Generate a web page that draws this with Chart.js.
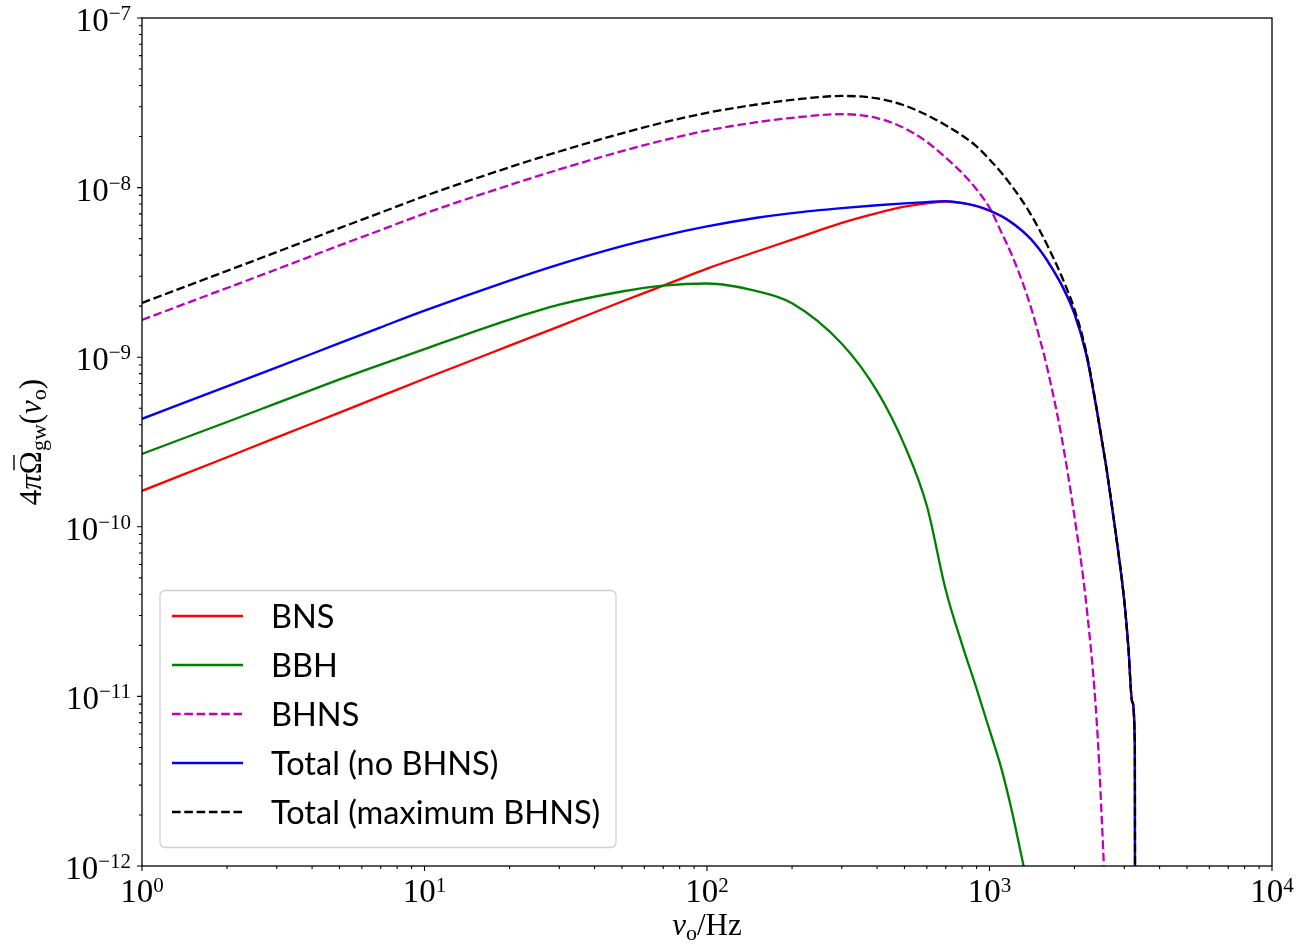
<!DOCTYPE html>
<html>
<head>
<meta charset="utf-8">
<script src="https://cdn.jsdelivr.net/npm/chart.js@4.4.1/dist/chart.umd.min.js"></script>
<style>
  html, body { margin: 0; padding: 0; background: #fff; }
  #wrap { width: 1312px; height: 945px; position: relative; }
</style>
</head>
<body>
<div id="wrap"><canvas id="chart"></canvas></div>
<script>
// frequencies in Hz
const FREQ = [1, 2, 3, 5, 7, 10, 20, 30, 50, 70, 100, 150, 200, 300, 400, 500, 600, 700, 800, 900,
  1000, 1100, 1200, 1300, 1400, 1500, 1600, 1800, 2000, 2200, 2400, 2500, 2600, 2800, 3000, 3100, 3200, 3270, 3280];

const BNS = [1.63e-10, 2.57e-10, 3.37e-10, 4.71e-10, 5.89e-10, 7.46e-10, 1.17e-9, 1.52e-9, 2.13e-9, 2.64e-9,
  3.33e-9, 4.20e-9, 4.93e-9, 6.2e-9, 7.08e-9, 7.72e-9, 8.08e-9, 8.28e-9, 8.10e-9, 7.78e-9,
  7.32e-9, 6.79e-9, 6.21e-9, 5.60e-9, 4.98e-9, 4.34e-9, 3.72e-9, 2.67e-9, 1.80e-9, 1.04e-9,
  4.82e-10, 3.21e-10, 2.16e-10, 9.1e-11, 3.66e-11, 1.97e-11, 9.3e-12, 5.2e-12, 1e-14];

const BBH = [2.69e-10, 4.15e-10, 5.36e-10, 7.40e-10, 9.05e-10, 1.117e-9, 1.667e-9, 2.04e-9, 2.44e-9, 2.64e-9,
  2.72e-9, 2.45e-9, 2.08e-9, 1.20e-9, 6.31e-10, 3.03e-10, 1.33e-10, 4.24e-11, 2.02e-11, 1.11e-11,
  6.34e-12, 3.79e-12, 2.11e-12, 1.13e-12, 6.3e-13, null, null, null, null, null,
  null, null, null, null, null, null, null, null, null];

const BHNS = [1.66e-9, 2.56e-9, 3.30e-9, 4.56e-9, 5.62e-9, 7.03e-9, 1.035e-8, 1.28e-8, 1.64e-8, 1.90e-8,
  2.17e-8, 2.43e-8, 2.58e-8, 2.71e-8, 2.57e-8, 2.24e-8, 1.86e-8, 1.50e-8, 1.22e-8, 9.75e-9,
  7.62e-9, 5.48e-9, 4.0e-9, 2.85e-9, 1.98e-9, 1.32e-9, 8.67e-10, 3.37e-10, 1.14e-10, 3.52e-11,
  6.85e-12, 1.82e-12, 4e-13, null, null, null, null, null, null];

const TOTAL_NO_BHNS = [4.33e-10, 6.73e-10, 8.71e-10, 1.21e-9, 1.50e-9, 1.88e-9, 2.83e-9, 3.53e-9, 4.52e-9, 5.20e-9,
  5.90e-9, 6.64e-9, 7.08e-9, 7.57e-9, 7.87e-9, 8.07e-9, 8.22e-9, 8.32e-9, 8.12e-9, 7.79e-9,
  7.33e-9, 6.79e-9, 6.21e-9, 5.60e-9, 4.98e-9, 4.34e-9, 3.72e-9, 2.67e-9, 1.80e-9, 1.04e-9,
  4.82e-10, 3.21e-10, 2.16e-10, 9.1e-11, 3.66e-11, 1.97e-11, 9.3e-12, 5.2e-12, 1e-14];

const TOTAL_MAX = [2.09e-9, 3.23e-9, 4.17e-9, 5.77e-9, 7.12e-9, 8.91e-9, 1.318e-8, 1.633e-8, 2.09e-8, 2.42e-8,
  2.76e-8, 3.09e-8, 3.29e-8, 3.47e-8, 3.36e-8, 3.05e-8, 2.68e-8, 2.33e-8, 2.03e-8, 1.75e-8,
  1.466e-8, 1.227e-8, 1.02e-8, 8.45e-9, 6.96e-9, 5.66e-9, 4.59e-9, 3.0e-9, 1.91e-9, 1.075e-9,
  4.89e-10, 3.23e-10, 2.16e-10, 9.1e-11, 3.66e-11, 1.97e-11, 9.3e-12, 5.2e-12, 1e-14];

const SERIES_LABELS = ["BNS", "BBH", "BHNS", "Total (no BHNS)", "Total (maximum BHNS)"];
const X_DECADES = [0, 1, 2, 3, 4];
const Y_DECADES = [-12, -11, -10, -9, -8, -7];

const SERIF = "'Liberation Serif', 'DejaVu Serif', serif";
const SANS = "Lato, 'DejaVu Sans', sans-serif";
const DASH = [8.6, 3.7];
const LW = 2.3;

function pts(ys) {
  return FREQ.map((f, i) => ({ x: f, y: ys[i] }));
}

// later series sit on top, as in the original plot
function line(label, ys, color, dashed, order) {
  return {
    label,
    data: pts(ys),
    borderColor: color,
    backgroundColor: color,
    borderWidth: LW,
    borderDash: dashed ? DASH : [],
    pointRadius: 0,
    fill: false,
    cubicInterpolationMode: "monotone",
    spanGaps: false,
    order,
  };
}

// draw a run of text pieces (base, super/subscripts) left to right
function drawParts(ctx, parts, x, y, align) {
  let w = 0;
  parts.forEach((p) => {
    ctx.font = p.font;
    p.w = ctx.measureText(p.text).width;
    w += p.w;
  });
  let cx = align === "right" ? x - w : align === "center" ? x - w / 2 : x;
  ctx.textAlign = "left";
  ctx.textBaseline = "alphabetic";
  parts.forEach((p) => {
    ctx.font = p.font;
    ctx.fillText(p.text, cx, y + (p.dy || 0));
    p.x = cx;
    cx += p.w;
  });
  return parts;
}

const axesPlugin = {
  id: "mplAxes",
  afterDraw(chart) {
    const ctx = chart.ctx;
    const a = chart.chartArea;
    const xs = chart.scales.x;
    const ys = chart.scales.y;
    ctx.save();
    ctx.fillStyle = "#000";
    ctx.strokeStyle = "#000";

    // ticks (outward, left and bottom)
    ctx.lineWidth = 1.1;
    ctx.beginPath();
    for (let i = 0; i < X_DECADES.length; i++) {
      const d = X_DECADES[i];
      const px = xs.getPixelForValue(Math.pow(10, d));
      ctx.moveTo(px, a.bottom); ctx.lineTo(px, a.bottom + 5);
      if (i < X_DECADES.length - 1) {
        for (let m = 2; m <= 9; m++) {
          const mx = xs.getPixelForValue(m * Math.pow(10, d));
          ctx.moveTo(mx, a.bottom); ctx.lineTo(mx, a.bottom + 3);
        }
      }
    }
    for (let i = 0; i < Y_DECADES.length; i++) {
      const d = Y_DECADES[i];
      const py = ys.getPixelForValue(Math.pow(10, d));
      ctx.moveTo(a.left, py); ctx.lineTo(a.left - 5, py);
      if (i < Y_DECADES.length - 1) {
        for (let m = 2; m <= 9; m++) {
          const my = ys.getPixelForValue(m * Math.pow(10, d));
          ctx.moveTo(a.left, my); ctx.lineTo(a.left - 3, my);
        }
      }
    }
    ctx.stroke();

    // frame
    ctx.lineWidth = 1.3;
    ctx.strokeRect(a.left, a.top, a.right - a.left, a.bottom - a.top);

    // tick labels
    const base = "33px " + SERIF;
    const sup = "21px " + SERIF;
    X_DECADES.forEach((d) => {
      const px = xs.getPixelForValue(Math.pow(10, d));
      drawParts(ctx, [
        { text: "10", font: base },
        { text: String(d).replace("-", "\u2212"), font: sup, dy: -10 },
      ], px, 902, "center");
    });
    Y_DECADES.forEach((d) => {
      const py = ys.getPixelForValue(Math.pow(10, d));
      drawParts(ctx, [
        { text: "10", font: base },
        { text: String(d).replace("-", "\u2212"), font: sup, dy: -11 },
      ], 131, py + 13, "right");
    });

    // x axis title
    const t = "31px " + SERIF;
    const ti = "italic 31px " + SERIF;
    const ts = "22px " + SERIF;
    drawParts(ctx, [
      { text: "\u03bd", font: ti },
      { text: "o", font: ts, dy: 5 },
      { text: "/Hz", font: t },
    ], (a.left + a.right) / 2, 935, "center");

    // y axis title, rotated
    ctx.save();
    ctx.translate(41, (a.top + a.bottom) / 2);
    ctx.rotate(-Math.PI / 2);
    const yp = drawParts(ctx, [
      { text: "4", font: t },
      { text: "\u03c0", font: ti },
      { text: "\u03a9", font: t },
      { text: "gw", font: ts, dy: 5 },
      { text: "(", font: t },
      { text: "\u03bd", font: ti },
      { text: "o", font: ts, dy: 5 },
      { text: ")", font: t },
    ], 0, 0, "center");
    const om = yp[2];
    ctx.lineWidth = 1.4;
    ctx.beginPath();
    ctx.moveTo(om.x + 4, -27);
    ctx.lineTo(om.x + om.w - 4, -27);
    ctx.stroke();
    ctx.restore();

    // legend box
    const lx = 160, ly = 590.5, lw = 456, lh = 257;
    ctx.beginPath();
    ctx.roundRect(lx, ly, lw, lh, 5);
    ctx.fillStyle = "rgba(255,255,255,0.8)";
    ctx.fill();
    ctx.strokeStyle = "#d0d0d0";
    ctx.lineWidth = 1.3;
    ctx.stroke();

    chart.data.datasets.forEach((ds, i) => {
      const y = 616 + i * 49;
      ctx.strokeStyle = ds.borderColor;
      ctx.lineWidth = LW;
      ctx.setLineDash(ds.borderDash || []);
      ctx.beginPath();
      ctx.moveTo(172, y);
      ctx.lineTo(243, y);
      ctx.stroke();
      ctx.setLineDash([]);
      ctx.fillStyle = "#000";
      ctx.font = "32.5px " + SANS;
      ctx.textAlign = "left";
      ctx.textBaseline = "alphabetic";
      ctx.fillText(ds.label, 271, y + 12);
    });
    ctx.restore();
  },
};

new Chart(document.getElementById("chart"), {
  type: "line",
  data: {
    datasets: [
      line(SERIES_LABELS[0], BNS, "#ff0000", false, 5),
      line(SERIES_LABELS[1], BBH, "#008000", false, 4),
      line(SERIES_LABELS[2], BHNS, "#bf00bf", true, 3),
      line(SERIES_LABELS[3], TOTAL_NO_BHNS, "#0000ff", false, 2),
      line(SERIES_LABELS[4], TOTAL_MAX, "#000000", true, 1),
    ],
  },
  options: {
    responsive: true,
    maintainAspectRatio: false,
    animation: false,
    devicePixelRatio: 1,
    layout: { padding: { left: 142, right: 40, top: 18, bottom: 79 } },
    plugins: { legend: { display: false }, tooltip: { enabled: false } },
    scales: {
      x: { type: "logarithmic", min: 1, max: 1e4, display: false },
      y: { type: "logarithmic", min: 1e-12, max: 1e-7, display: false },
    },
  },
  plugins: [axesPlugin],
});
</script>
</body>
</html>
